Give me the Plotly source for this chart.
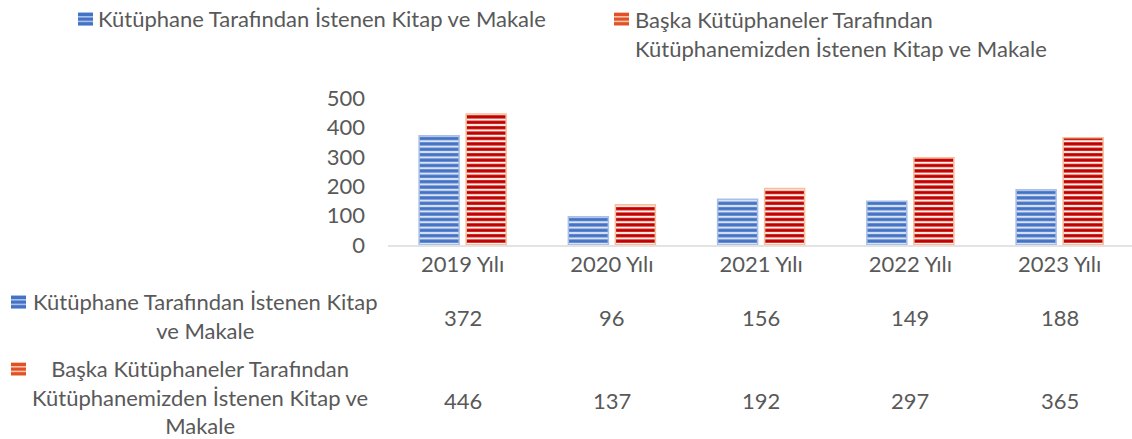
import plotly.graph_objects as go

categories = ["2019 Yılı", "2020 Yılı", "2021 Yılı", "2022 Yılı", "2023 Yılı"]
series1_name = "Kütüphane Tarafından İstenen Kitap ve Makale"
series2_name = "Başka Kütüphaneler Tarafından Kütüphanemizden İstenen Kitap ve Makale"
series1 = [372, 96, 156, 149, 188]
series2 = [446, 137, 192, 297, 365]
ytick_vals = [0, 100, 200, 300, 400, 500]

W, H = 1132, 439
FONT = "Lato"
FS = 22
TXT = "#595959"

BLUE_FG, BLUE_BG = "#4472C4", "#D9E3F5"
RED_FG, RED_BG = "#C00000", "#FFF1E8"


def px(x):
    return x / W


def py(y):
    return 1 - y / H


fig = go.Figure()
fig.add_trace(go.Bar(
    x=categories, y=series1, name=series1_name,
    marker=dict(color=BLUE_BG, line=dict(color="#A8BFE6", width=1.5),
                pattern=dict(shape="-", fgcolor=BLUE_FG, bgcolor=BLUE_BG,
                             size=5.4, solidity=0.6, fgopacity=1, fillmode="overlay")),
    showlegend=False,
))
fig.add_trace(go.Bar(
    x=categories, y=series2, name=series2_name,
    marker=dict(color=RED_BG, line=dict(color="#F6BE9A", width=1.5),
                pattern=dict(shape="-", fgcolor=RED_FG, bgcolor=RED_BG,
                             size=5.4, solidity=0.6, fgopacity=1, fillmode="overlay")),
    showlegend=False,
))

annotations = []
shapes = []


def swatch(x0, y0, fg, bg):
    shapes.append(dict(type="rect", xref="paper", yref="paper",
                       x0=px(x0), x1=px(x0 + 15), y0=py(y0), y1=py(y0 + 14),
                       fillcolor=bg, line=dict(width=0)))
    for k in range(3):
        yy = y0 + 1 + k * 4.6
        shapes.append(dict(type="rect", xref="paper", yref="paper",
                           x0=px(x0), x1=px(x0 + 15), y0=py(yy), y1=py(yy + 3),
                           fillcolor=fg, line=dict(width=0)))


def text(x, y, s, xanchor="left", align="left"):
    annotations.append(dict(x=px(x), y=py(y), xref="paper", yref="paper",
                            text=s, showarrow=False, xanchor=xanchor, yanchor="middle",
                            align=align, font=dict(family=FONT, size=FS, color=TXT)))


# top legend
swatch(78, 12, BLUE_FG, "#A9C0E8")
text(96, 19, series1_name)
swatch(614, 12, "#E0502A", "#F8C4A4")
text(633, 34, "Başka Kütüphaneler Tarafından<br>Kütüphanemizden İstenen Kitap ve Makale")

# data table row labels
swatch(11, 295, BLUE_FG, "#A9C0E8")
text(205, 316, "Kütüphane Tarafından İstenen Kitap<br>ve Makale", xanchor="center", align="center")
swatch(11, 362, "#E0502A", "#F8C4A4")
text(200, 397, "Başka Kütüphaneler Tarafından<br>Kütüphanemizden İstenen Kitap ve<br>Makale",
     xanchor="center", align="center")

# data table values
for cat, v1, v2 in zip(categories, series1, series2):
    annotations.append(dict(x=cat, xref="x", y=py(317), yref="paper", text=str(v1),
                            showarrow=False, yanchor="middle",
                            font=dict(family=FONT, size=FS, color=TXT)))
    annotations.append(dict(x=cat, xref="x", y=py(400), yref="paper", text=str(v2),
                            showarrow=False, yanchor="middle",
                            font=dict(family=FONT, size=FS, color=TXT)))

fig.update_layout(
    width=W, height=H,
    margin=dict(l=0, r=0, t=0, b=0, autoexpand=False),
    paper_bgcolor="white", plot_bgcolor="white",
    barmode="group", bargap=0.37, bargroupgap=0.149,
    font=dict(family=FONT, size=FS, color=TXT),
    xaxis=dict(domain=[px(388), 1], range=[-0.5, 4.485], showgrid=False,
               showline=True, linecolor="#E3E3E3", linewidth=2, ticks="",
               tickfont=dict(family=FONT, size=FS, color=TXT), ticklabelstandoff=-1),
    yaxis=dict(domain=[py(245), py(98)], range=[0, 500], tickvals=ytick_vals,
               showgrid=False, zeroline=False, showline=False, ticks="",
               tickfont=dict(family=FONT, size=FS, color=TXT), ticklabelstandoff=22),
    annotations=annotations, shapes=shapes,
)

fig.write_html("out.html")
